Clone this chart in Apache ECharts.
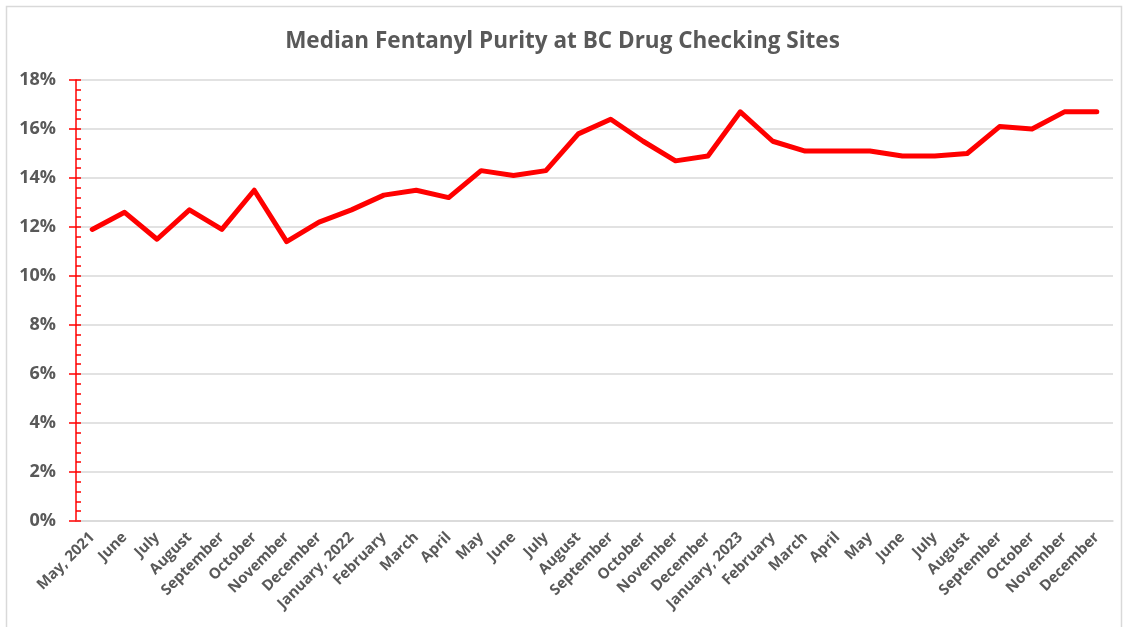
<!DOCTYPE html>
<html>
<head>
<meta charset="utf-8">
<script src="https://cdn.jsdelivr.net/npm/echarts@6/dist/echarts.min.js"></script>
<style>
html, body { margin: 0; padding: 0; background: #fff; }
#chart { width: 1125px; height: 627px; }
</style>
</head>
<body>
<div id="chart"></div>
<script>
var months = ['May, 2021', 'June', 'July', 'August', 'September', 'October', 'November', 'December',
	'January, 2022', 'February', 'March', 'April', 'May', 'June', 'July', 'August', 'September', 'October', 'November', 'December',
	'January, 2023', 'February', 'March', 'April', 'May', 'June', 'July', 'August', 'September', 'October', 'November', 'December'];
var purity = [11.9, 12.6, 11.5, 12.7, 11.9, 13.5, 11.4, 12.2,
	12.7, 13.3, 13.5, 13.2, 14.3, 14.1, 14.3, 15.8, 16.4, 15.5, 14.7, 14.9,
	16.7, 15.5, 15.1, 15.1, 15.1, 14.9, 14.9, 15.0, 16.1, 16.0, 16.7, 16.7];
var yMin = 0, yMax = 18, yStep = 2;

var textColor = '#595959';
var font = '"Open Sans", "DejaVu Sans", sans-serif';

var chart = echarts.init(document.getElementById('chart'));
var option = {
	animation: false,
	title: {
		text: 'Median Fentanyl Purity at BC Drug Checking Sites',
		left: 'center',
		top: 25,
		textStyle: { fontFamily: font, fontSize: 22.5, fontWeight: 'bold', color: textColor }
	},
	graphic: [{
		type: 'polyline',
		shape: { points: [[6.5, 627], [6.5, 6.5], [1121.5, 6.5], [1121.5, 627]] },
		style: { fill: null, stroke: '#d9d9d9', lineWidth: 1.5 },
		silent: true
	}],
	grid: { left: 76, right: 12, top: 80, bottom: 106 },
	xAxis: {
		type: 'category',
		data: months,
		boundaryGap: true,
		axisLine: { show: true, lineStyle: { color: '#d9d9d9', width: 1.5 } },
		axisTick: { show: false },
		axisLabel: {
			rotate: 45,
			interval: 0,
			margin: 14,
			fontFamily: font,
			fontSize: 15,
			fontWeight: 'bold',
			color: textColor
		}
	},
	yAxis: [{
		type: 'value',
		min: yMin, max: yMax, interval: yStep,
		axisLine: { show: true, lineStyle: { color: '#ff0000', width: 1.5 } },
		axisTick: { show: true, length: 7, lineStyle: { color: '#ff0000', width: 1.5 } },
		splitLine: { show: true, lineStyle: { color: '#d9d9d9', width: 1.5 } },
		axisLabel: {
			formatter: '{value}%',
			margin: 20,
			fontFamily: font,
			fontSize: 18,
			fontWeight: 'bold',
			color: textColor
		}
	}, {
		type: 'value',
		position: 'left',
		min: yMin, max: yMax, interval: yStep,
		axisLine: { show: false },
		axisTick: { show: true, inside: true, length: 5, lineStyle: { color: '#ff0000', width: 1.5 } },
		minorTick: { show: true, splitNumber: 5, length: 5, lineStyle: { color: '#ff0000', width: 1.5 } },
		splitLine: { show: false },
		axisLabel: { show: false }
	}],
	series: [{
		name: 'Median purity',
		type: 'line',
		data: purity,
		yAxisIndex: 0,
		symbol: 'none',
		lineStyle: { color: '#ff0000', width: 5, cap: 'round', join: 'round' }
	}]
};
chart.setOption(option);
</script>
</body>
</html>
